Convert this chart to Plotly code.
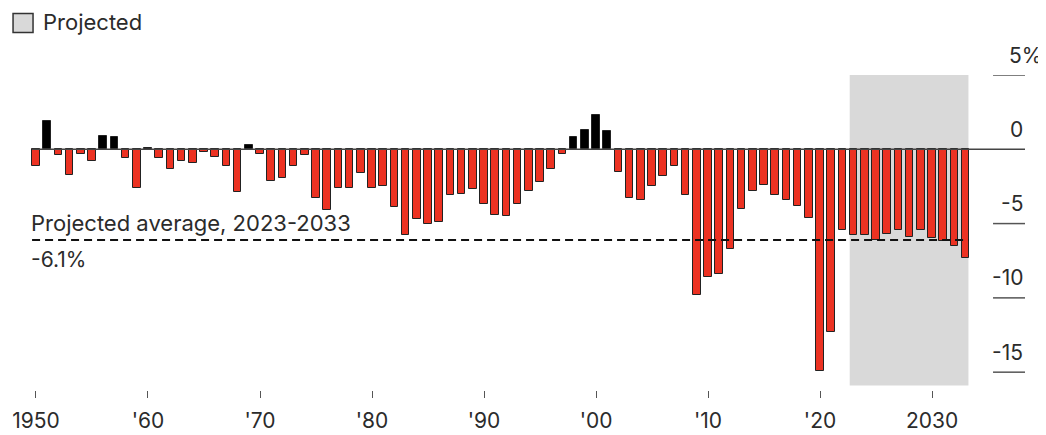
import plotly.graph_objects as go

years = list(range(1950, 2034))
balance = [
    -1.1, 1.9, -0.4, -1.7, -0.3, -0.8, 0.9, 0.8, -0.6, -2.6,   # 1950s
    0.1, -0.6, -1.3, -0.8, -0.9, -0.2, -0.5, -1.1, -2.9, 0.3,   # 1960s
    -0.3, -2.1, -1.9, -1.1, -0.4, -3.3, -4.1, -2.6, -2.6, -1.6, # 1970s
    -2.6, -2.5, -3.9, -5.8, -4.7, -5.0, -4.9, -3.1, -3.0, -2.7, # 1980s
    -3.7, -4.4, -4.5, -3.7, -2.8, -2.2, -1.3, -0.3, 0.8, 1.3,   # 1990s
    2.3, 1.2, -1.5, -3.3, -3.4, -2.5, -1.8, -1.1, -3.1, -9.8,   # 2000s
    -8.6, -8.4, -6.7, -4.0, -2.8, -2.4, -3.1, -3.4, -3.8, -4.6, # 2010s
    -14.9, -12.3, -5.4, -5.8, -5.8, -6.1, -5.7, -5.4, -5.9, -5.4,  # 2020s
    -6.0, -6.2, -6.5, -7.3,                                      # 2030s
]
projected_start, projected_end = 2023, 2033
projected_avg = -6.1
x_tickvals = [1950, 1960, 1970, 1980, 1990, 2000, 2010, 2020, 2030]
x_ticktext = ["1950", "'60", "'70", "'80", "'90", "'00", "'10", "'20", "2030"]
y_tickvals = [5, 0, -5, -10, -15]
y_ticktext = ["5%", "0", "-5", "-10", "-15"]

FONT = "Inter, Liberation Sans, Arial, sans-serif"
TXT = "#2b2b2b"
RED = "#ec3222"

colors = [RED if v < 0 else "#000000" for v in balance]

fig = go.Figure()
fig.add_trace(go.Bar(
    x=years, y=balance, width=0.68,
    marker=dict(color=colors, line=dict(color="#222222", width=1)),
    showlegend=False, hoverinfo="x+y",
))

X0, X1 = 1947.68, 2038.3
shapes = []
# projected shading
shapes.append(dict(type="rect", xref="x", yref="y", x0=projected_start - 0.35, x1=projected_end + 0.25,
                   y0=-15.9, y1=5, fillcolor="#d9d9d9", line=dict(width=0), layer="below"))
# zero line
shapes.append(dict(type="line", xref="x", yref="y", x0=1949.65, x1=X1, y0=0, y1=0,
                   line=dict(color="#444444", width=1.5), layer="above"))
# right tick lines
for v in y_tickvals:
    if v == 0:
        continue
    shapes.append(dict(type="line", xref="paper", yref="y", x0=0.9685, x1=1, y0=v, y1=v,
                       line=dict(color="#555555", width=1.5)))
# projected average dashed line
shapes.append(dict(type="line", xref="x", yref="y", x0=1949.65, x1=projected_end + 0.25,
                   y0=projected_avg, y1=projected_avg,
                   line=dict(color="#111111", width=2, dash="8px,5px"), layer="above"))
# legend box
shapes.append(dict(type="rect", xref="paper", yref="paper", x0=0.003, x1=0.0227, y0=1.135, y1=1.195,
                   fillcolor="#d9d9d9", line=dict(color="#333333", width=1.5)))

annotations = []
for v, t in zip(y_tickvals, y_ticktext):
    annotations.append(dict(xref="paper", yref="y", x=1, y=v, text=t, showarrow=False,
                            xanchor="right", yanchor="middle", yshift=20,
                            xshift=19 if t.endswith("%") else 0,
                            font=dict(family=FONT, size=21, color=TXT)))
annotations.append(dict(xref="x", yref="y", x=1949.65, y=projected_avg,
                        text="Projected average, 2023-2033", showarrow=False,
                        xanchor="left", yanchor="bottom", yshift=2, xshift=-3,
                        font=dict(family=FONT, size=22, color=TXT)))
annotations.append(dict(xref="x", yref="y", x=1949.65, y=projected_avg,
                        text=f"{projected_avg}%", showarrow=False,
                        xanchor="left", yanchor="top", yshift=-5, xshift=-3,
                        font=dict(family=FONT, size=21, color=TXT)))
annotations.append(dict(xref="paper", yref="paper", x=0.0305, y=1.1667, text="Projected",
                        showarrow=False, xanchor="left", yanchor="middle",
                        font=dict(family=FONT, size=22, color=TXT)))

# page has an 8px body margin; figure is sized to fill the window exactly
fig.update_layout(
    width=1038, height=427,
    margin=dict(l=2, r=21, t=67, b=42),
    paper_bgcolor="white", plot_bgcolor="white",
    shapes=shapes, annotations=annotations,
    bargap=0, showlegend=False,
    font=dict(family=FONT, size=21, color=TXT),
)
fig.update_xaxes(range=[X0, X1], tickvals=x_tickvals, ticktext=x_ticktext,
                 ticks="outside", ticklen=7, tickcolor="#555555", tickwidth=1,
                 showgrid=False, zeroline=False, showline=False,
                 tickfont=dict(family=FONT, size=21, color=TXT), ticklabelstandoff=5)
fig.update_yaxes(range=[-16.2, 5], showticklabels=False, showgrid=False, zeroline=False,
                 showline=False, ticks="")

fig.write_html("out.html")
